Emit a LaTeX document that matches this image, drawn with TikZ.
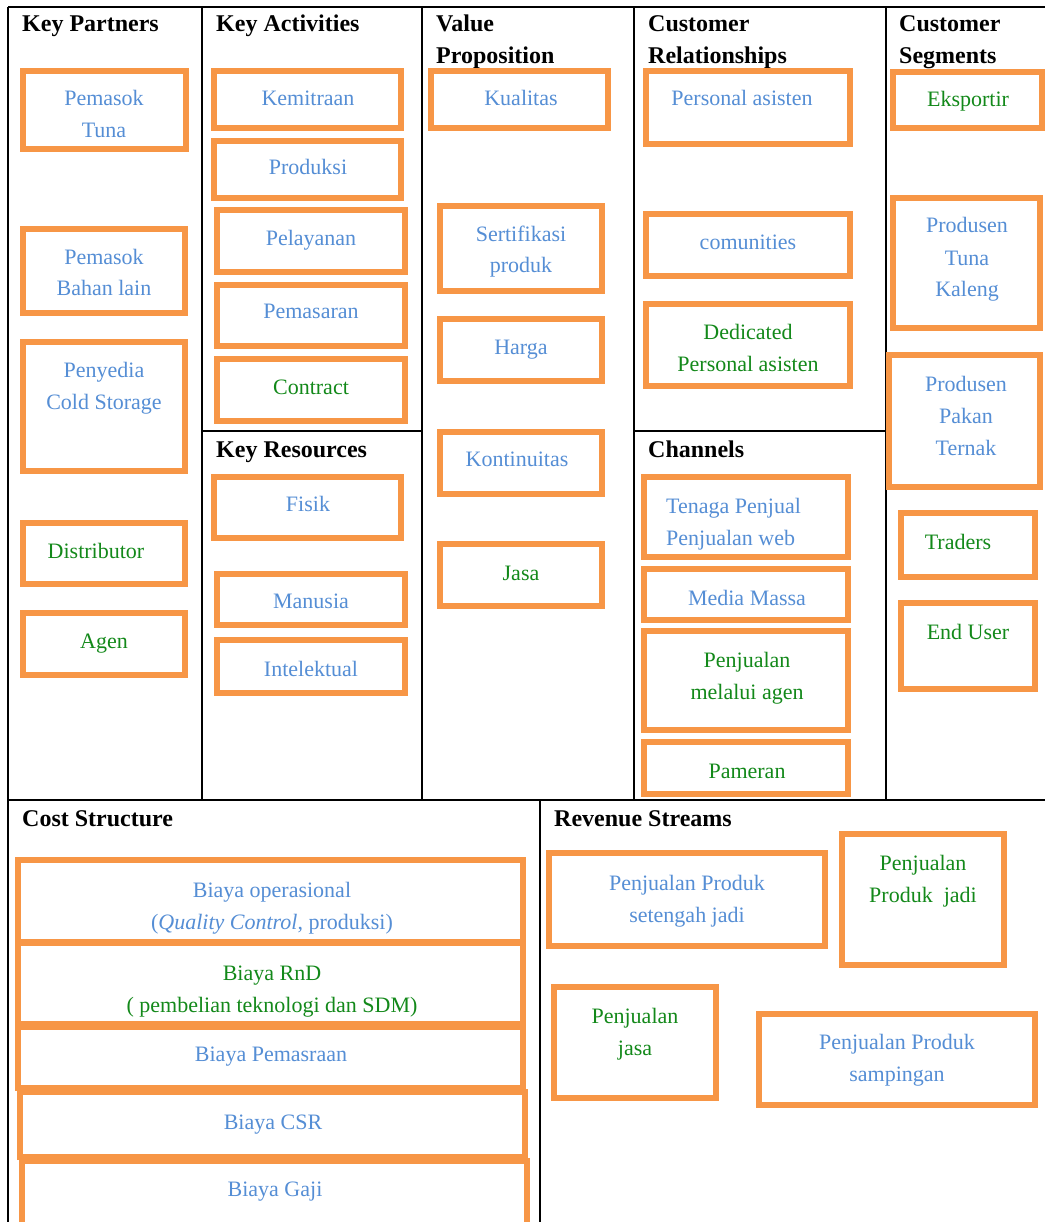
\documentclass[tikz,border=0pt]{standalone}
\usepackage{fontspec}
\setmainfont{Liberation Serif}
\usepackage{tikz}
\usetikzlibrary{positioning,calc}

\definecolor{boxorange}{HTML}{F79646}
\definecolor{txtblue}{HTML}{558ED5}
\definecolor{txtgreen}{HTML}{13891A}

\begin{document}
\begin{tikzpicture}[x=1pt,y=-1pt,
	obox/.style={draw=boxorange,line width=6pt},
	grid/.style={draw=black,line width=2pt},
	head/.style={anchor=base west,inner sep=0pt,align=left,font=\fontsize{24}{32}\selectfont\bfseries},
	bluetxt/.style={anchor=base,inner sep=0pt,align=center,text=txtblue,font=\fontsize{22}{32}\selectfont},
	greentxt/.style={bluetxt,text=txtgreen}]
		\clip (0,0) rectangle (1045,1222);
		\fill[white] (0,0) rectangle (1045,1222);
		% canvas lines
		\draw[grid] (8,7) -- (1045,7);
		\draw[grid] (8,7) -- (8,1222);
		\draw[grid] (7,800) -- (1045,800);
		\foreach \xx in {202,422,634,886}
			\draw[grid] (\xx,7) -- (\xx,800);
		\draw[grid] (202,431) -- (422,431);
		\draw[grid] (634,431) -- (886,431);
		\draw[grid] (540,800) -- (540,1222);
		% headings (base = last line)
		\node[head] (kp) at (22,32) {Key Partners};
		\node[head] (ka) at (216,32) {Key Activities};
		\node[head] (vp) at (436,64) {Value\\Proposition};
		\node[head] (cr) at (648,64) {Customer\\Relationships};
		\node[head] (cs) at (899,64) {Customer\\Segments};
		\node[head] (kr) at (216,457) {Key Resources};
		\node[head] (ch) at (648,457) {Channels};
		\node[head] (cost) at (22,826) {Cost Structure};
		\node[head] (rev) at (554,826) {Revenue Streams};
		% key partners
		\draw[obox] (23,71) rectangle (186,149);
		\node[bluetxt] (kp1) at (104,138) {Pemasok\\Tuna};
		\draw[obox] (23,229) rectangle (185,313);
		\node[bluetxt] (kp2) at (104,296) {Pemasok\\Bahan lain};
		\draw[obox] (23,342) rectangle (185,471);
		\node[bluetxt] (kp3) at (104,409) {Penyedia\\Cold Storage};
		\draw[obox] (23,523) rectangle (185,584);
		\node[greentxt] (kp4) at (96,558) {Distributor};
		\draw[obox] (23,613) rectangle (185,675);
		\node[greentxt] (kp5) at (104,648) {Agen};
		% key activities
		\draw[obox] (214,71) rectangle (401,128);
		\node[bluetxt] (ka1) at (308,106) {Kemitraan};
		\draw[obox] (214,141) rectangle (401,198);
		\node[bluetxt] (ka2) at (308,175) {Produksi};
		\draw[obox] (217,210) rectangle (405,272);
		\node[bluetxt] (ka3) at (311,246) {Pelayanan};
		\draw[obox] (217,285) rectangle (405,346);
		\node[bluetxt] (ka4) at (311,319) {Pemasaran};
		\draw[obox] (217,359) rectangle (405,421);
		\node[greentxt] (ka5) at (311,394) {Contract};
		% key resources
		\draw[obox] (214,477) rectangle (401,538);
		\node[bluetxt] (kr1) at (308,511) {Fisik};
		\draw[obox] (217,574) rectangle (405,625);
		\node[bluetxt] (kr2) at (311,608) {Manusia};
		\draw[obox] (217,640) rectangle (405,693);
		\node[bluetxt] (kr3) at (311,676) {Intelektual};
		% value proposition
		\draw[obox] (431,71) rectangle (608,128);
		\node[bluetxt] (vp1) at (521,106) {Kualitas};
		\draw[obox] (440,206) rectangle (602,291);
		\node[bluetxt] (vp2) at (521,273) {Sertifikasi\\produk};
		\draw[obox] (440,319) rectangle (602,381);
		\node[bluetxt] (vp3) at (521,354) {Harga};
		\draw[obox] (440,432) rectangle (602,494);
		\node[bluetxt] (vp4) at (517,466) {Kontinuitas};
		\draw[obox] (440,544) rectangle (602,606);
		\node[greentxt] (vp5) at (521,580) {Jasa};
		% customer relationships
		\draw[obox] (646,71) rectangle (850,144);
		\node[bluetxt] (cr1) at (742,106) {Personal asisten};
		\draw[obox] (646,214) rectangle (850,276);
		\node[bluetxt] (cr2) at (748,250) {comunities};
		\draw[obox] (646,304) rectangle (850,386);
		\node[greentxt] (cr3) at (748,371) {Dedicated\\Personal asisten};
		% channels
		\draw[obox] (644,477) rectangle (848,557);
		\node[bluetxt,anchor=base west,align=left] (ch1) at (666,545) {Tenaga Penjual\\Penjualan web};
		\draw[obox] (644,569) rectangle (848,620);
		\node[bluetxt] (ch2) at (747,605) {Media Massa};
		\draw[obox] (644,631) rectangle (848,730);
		\node[greentxt] (ch3) at (747,699) {Penjualan\\melalui agen};
		\draw[obox] (644,742) rectangle (848,794);
		\node[greentxt] (ch4) at (747,778) {Pameran};
		% customer segments
		\draw[obox] (893,72) rectangle (1042,128);
		\node[greentxt] (cs1) at (968,107) {Eksportir};
		\draw[obox] (893,198) rectangle (1040,328);
		\node[bluetxt] (cs2) at (967,297) {Produsen\\Tuna\\Kaleng};
		\draw[obox] (889,355) rectangle (1040,487);
		\node[bluetxt] (cs3) at (966,455) {Produsen\\Pakan\\Ternak};
		\draw[obox] (901,513) rectangle (1035,577);
		\node[greentxt] (cs4) at (958,549) {Traders};
		\draw[obox] (901,603) rectangle (1035,689);
		\node[greentxt] (cs5) at (968,639) {End User};
		% cost structure
		\draw[obox] (18,860) rectangle (523,942);
		\node[bluetxt] (cost1) at (272,929) {Biaya operasional\\(\textit{Quality Control}, produksi)};
		\draw[obox] (18,943) rectangle (523,1024);
		\node[greentxt] (cost2) at (272,1012) {Biaya RnD\\( pembelian teknologi dan SDM)};
		\draw[obox] (18,1027) rectangle (523,1088);
		\node[bluetxt] (cost3) at (271,1061) {Biaya Pemasraan};
		\draw[obox] (20,1092) rectangle (525,1157);
		\node[bluetxt] (cost4) at (273,1129) {Biaya CSR};
		\draw[obox] (22,1161) rectangle (527,1235);
		\node[bluetxt] (cost5) at (275,1196) {Biaya Gaji};
		% revenue streams
		\draw[obox] (549,853) rectangle (825,946);
		\node[bluetxt] (rev1) at (687,922) {Penjualan Produk\\setengah jadi};
		\draw[obox] (842,834) rectangle (1004,965);
		\node[greentxt] (rev2) at (923,902) {Penjualan\\Produk~ jadi};
		\draw[obox] (554,987) rectangle (716,1098);
		\node[greentxt] (rev3) at (635,1055) {Penjualan\\jasa};
		\draw[obox] (759,1014) rectangle (1035,1105);
		\node[bluetxt] (rev4) at (897,1081) {Penjualan Produk\\sampingan};
	\end{tikzpicture}
\end{document}
